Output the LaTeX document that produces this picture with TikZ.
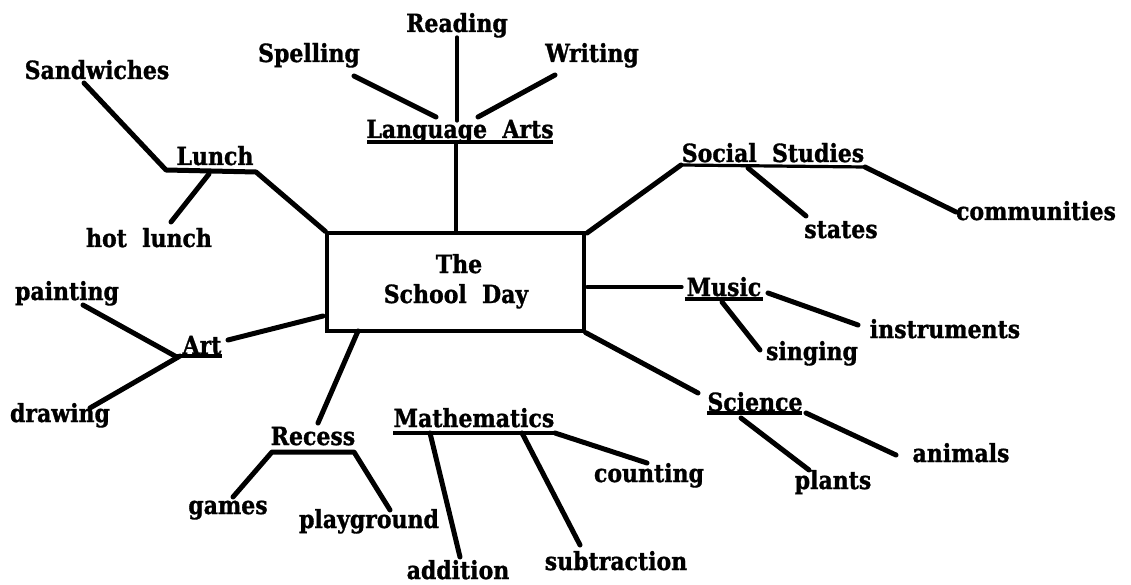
\documentclass[tikz,border=0pt]{standalone}
\usepackage{fontspec}
\setmainfont{DejaVu Serif}
\newfontfamily\lblfont{DejaVu Serif}[FakeStretch=0.88,FakeBold=1.2]
\begin{document}
\begin{tikzpicture}[x=1pt,y=-1pt,
  lbl/.style={font=\lblfont\bfseries\fontsize{25}{28}\selectfont, inner sep=0pt, anchor=base},
  conn/.style={line width=5pt, line cap=round, line join=round},
  thin/.style={line width=3.2pt, line cap=round},
  uline/.style={line width=3.2pt},
  daybox/.style={draw, line width=3.2pt, minimum width=257pt, minimum height=98pt, inner sep=0pt}]
\useasboundingbox (0,0) rectangle (1131,585);
% central box
\node[daybox] (day) at (455.5,282) {};
\node[lbl] (dayT) at (459,273) {The};
\node[lbl] (dayS) at (456,303) {School\ \ Day};
% labels
\node[lbl] (reading) at (457,32) {Reading};
\node[lbl] (spelling) at (309,62) {Spelling};
\node[lbl] (writing) at (592,62) {Writing};
\node[lbl] (la) at (460,138) {Language\ \ Arts};
\node[lbl] (sand) at (97,79) {Sandwiches};
\node[lbl] (lunch) at (215,165) {Lunch};
\node[lbl] (hot) at (149,247) {hot\ \ lunch};
\node[lbl] (social) at (773,162) {Social\ \ Studies};
\node[lbl] (states) at (841,238) {states};
\node[lbl] (comm) at (1036,220) {communities};
\node[lbl] (music) at (724,296) {Music};
\node[lbl] (instr) at (945,338) {instruments};
\node[lbl] (singing) at (812,360) {singing};
\node[lbl] (science) at (755,411) {Science};
\node[lbl] (animals) at (961,462) {animals};
\node[lbl] (plants) at (833,489) {plants};
\node[lbl] (math) at (474,427) {Mathematics};
\node[lbl] (counting) at (649,482) {counting};
\node[lbl] (subtr) at (616,570) {subtraction};
\node[lbl] (addition) at (458,579) {addition};
\node[lbl] (recess) at (313,445) {Recess};
\node[lbl] (games) at (228,514) {games};
\node[lbl] (play) at (369,528) {playground};
\node[lbl] (art) at (202,354) {Art};
\node[lbl] (painting) at (67,300) {painting};
\node[lbl] (drawing) at (60,422) {drawing};
% coordinates for connector ends
\coordinate (rdA) at (457,37);  \coordinate (rdB) at (457,121);
\coordinate (spA) at (354,76);  \coordinate (spB) at (436,117);
\coordinate (wrA) at (555,75);  \coordinate (wrB) at (478,117);
\coordinate (laL) at (367,142); \coordinate (laR) at (553,142);
\coordinate (laB) at (456,143);
\coordinate (sdA) at (84,83);   \coordinate (luL) at (166,170); \coordinate (luR) at (256,172);
\coordinate (hlA) at (209,174); \coordinate (hlB) at (171,222);
\coordinate (boxNE) at (587,233);
\coordinate (ssL) at (681,165); \coordinate (ssR) at (865,167);
\coordinate (cmB) at (956,212);
\coordinate (stA) at (748,168); \coordinate (stB) at (806,216);
\coordinate (boxE) at (587,287); \coordinate (muA) at (682,287);
\coordinate (muL) at (685,299); \coordinate (muR) at (763,299);
\coordinate (inA) at (768,293); \coordinate (inB) at (858,325);
\coordinate (sgA) at (722,302); \coordinate (sgB) at (760,350);
\coordinate (scA) at (698,393);
\coordinate (scL) at (707,413); \coordinate (scR) at (802,413);
\coordinate (anA) at (806,413); \coordinate (anB) at (896,455);
\coordinate (plA) at (741,418); \coordinate (plB) at (809,470);
\coordinate (boxS) at (358,331); \coordinate (reA) at (318,423);
\coordinate (gmB) at (233,497); \coordinate (reL) at (272,452);
\coordinate (reR) at (354,452); \coordinate (pgB) at (390,510);
\coordinate (maL) at (393,433); \coordinate (maR) at (555,433);
\coordinate (coB) at (647,463);
\coordinate (adA) at (430,433); \coordinate (adB) at (460,557);
\coordinate (suA) at (522,433); \coordinate (suB) at (580,545);
\coordinate (boxW) at (323,316); \coordinate (arA) at (228,340);
\coordinate (arL) at (175,356); \coordinate (arR) at (222,356);
\coordinate (paA) at (83,305);
\coordinate (drA) at (180,356); \coordinate (drB) at (90,408);
% Language Arts
\draw[thin] (rdA) -- (rdB);
\draw[conn] (spA) -- (spB);
\draw[conn] (wrA) -- (wrB);
\draw[uline] (laL) -- (laR);
\draw[thin] (laB) -- (laB |- day.north);
% Lunch
\draw[conn] (sdA) -- (luL) -- (luR) -- (day.north west);
\draw[conn] (hlA) -- (hlB);
% Social Studies
\draw[conn] (boxNE) -- (ssL);
\draw[uline] (ssL) -- (ssR);
\draw[conn] (ssR) -- (cmB);
\draw[conn] (stA) -- (stB);
% Music
\draw[thin] (boxE) -- (muA);
\draw[uline] (muL) -- (muR);
\draw[conn] (inA) -- (inB);
\draw[conn] (sgA) -- (sgB);
% Science
\draw[conn] (day.south east) -- (scA);
\draw[uline] (scL) -- (scR);
\draw[conn] (anA) -- (anB);
\draw[conn] (plA) -- (plB);
% Recess
\draw[conn] (boxS) -- (reA);
\draw[conn] (gmB) -- (reL) -- (reR) -- (pgB);
% Mathematics
\draw[uline] (maL) -- (maR);
\draw[conn] (maR) -- (coB);
\draw[conn] (adA) -- (adB);
\draw[conn] (suA) -- (suB);
% Art
\draw[conn] (boxW) -- (arA);
\draw[uline] (arL) -- (arR);
\draw[conn] (paA) -- (arL);
\draw[conn] (drA) -- (drB);
\end{tikzpicture}
\end{document}
